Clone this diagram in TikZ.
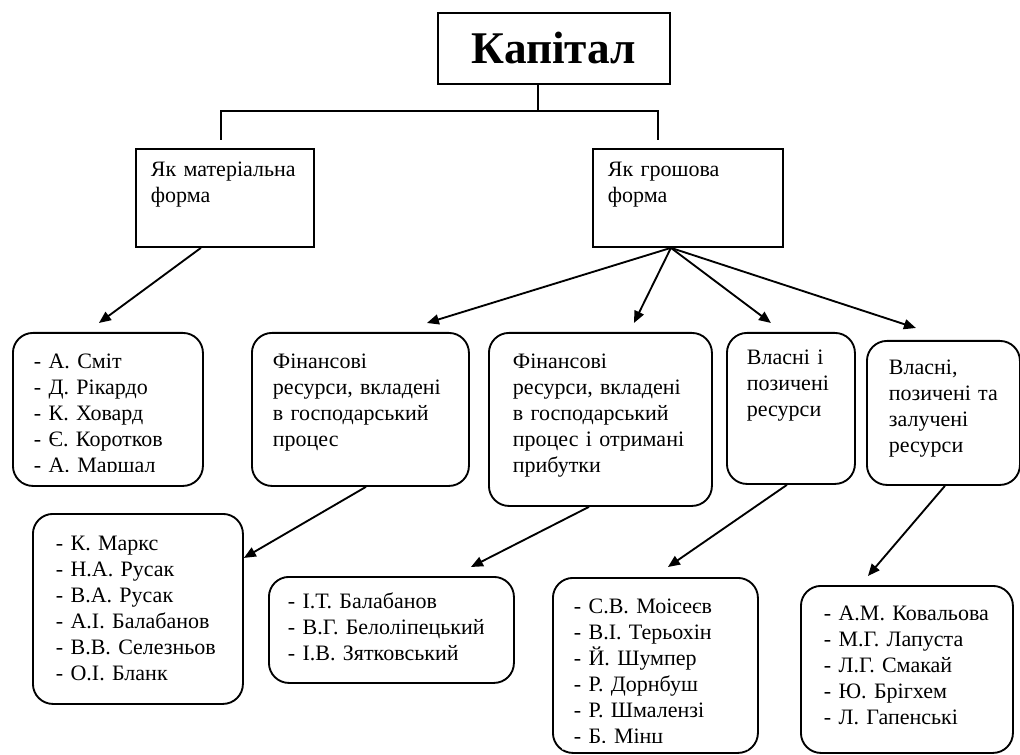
\documentclass[tikz,border=0pt]{standalone}
\usepackage{fontspec}
\setmainfont{Liberation Serif}
\usetikzlibrary{arrows.meta}
\tikzset{>={Triangle[width=7.5pt,length=9pt]}}
\tikzset{
  sqbox/.style={draw, line width=1.4pt, inner ysep=0pt, anchor=north west, align=left},
  rbox/.style={sqbox, rounded corners=15pt},
  arr/.style={->, line width=1.4pt},
  tree/.style={line width=1pt}
}
\newcommand{\txt}{\fontsize{16.5pt}{19.5pt}\selectfont}

\begin{document}
\begin{tikzpicture}[x=0.75pt, y=-0.75pt, font=\txt]
  \useasboundingbox (0,0) rectangle (1020,755);

  %% top
  \node[sqbox, align=center, inner sep=0pt, minimum width=174pt, minimum height=53.25pt,
        font=\fontsize{34pt}{38pt}\selectfont\bfseries] (kap) at (437,12) {Капітал};

  \node[sqbox, inner xsep=11.25pt, text width=111pt, text height=21pt, text depth=52.5pt]
    (mat) at (135,148) {Як~матеріальна\\форма};
  \node[sqbox, inner xsep=11.25pt, text width=120pt, text height=21pt, text depth=52.5pt]
    (gro) at (592,148) {Як~грошова\\форма};

  \coordinate (fork) at (538,111);
  \draw[tree] (kap.south -| fork) -- (fork);
  \draw[tree] ([shift={(-4,-8)}]mat.north) |- (fork) -| ([shift={(-30,-8)}]gro.north);

  %% second row
  \begin{scope}
    \clip (0,0) rectangle (1020,471.5) (0,482) rectangle (1020,755)
          (0,471.5) rectangle (22,482) (192,471.5) rectangle (1020,482);
    \node[rbox, inner xsep=15.75pt, text width=111pt, text height=27pt, text depth=87.75pt]
      (smith) at (12,332)
      {-~А.~Сміт\\-~Д.~Рікардо\\-~К.~Ховард\\-~Є.~Коротков\\-~А.~Маршал};
  \end{scope}
  \node[rbox, inner xsep=15.75pt, text width=131.25pt, text height=27pt, text depth=87.75pt]
    (finB) at (251,332)
    {Фінансові\\ресурси,~вкладені\\в~господарський\\процес};
  \node[rbox, inner xsep=18pt, text width=131.25pt, text height=27pt, text depth=102.75pt]
    (finC) at (488,332)
    {Фінансові\\ресурси,~вкладені\\в~господарський\\процес~і~отримані\\прибутки};
  \node[rbox, inner xsep=15pt, text width=66pt, text height=24pt, text depth=89.25pt]
    (own) at (726,332)
    {Власні~і\\позичені\\ресурси};
  \node[rbox, inner xsep=16.5pt, text width=81.75pt, text height=25.5pt, text depth=82.5pt]
    (owb) at (866,340)
    {Власні,\\позичені~та\\залучені\\ресурси};

  %% third row
  \node[rbox, inner xsep=17.25pt, text width=123pt, text height=27.75pt, text depth=114.75pt]
    (marx) at (32,513)
    {-~К.~Маркс\\-~Н.А.~Русак\\-~В.А.~Русак\\-~А.І.~Балабанов\\-~В.В.~Селезньов\\-~О.І.~Бланк};
  \node[rbox, inner xsep=14.25pt, text width=155.25pt, text height=24pt, text depth=55.5pt]
    (bal) at (268,576)
    {-~І.Т.~Балабанов\\-~В.Г.~Белоліпецький\\-~І.В.~Зятковський};
  \begin{scope}
    \clip (0,0) rectangle (1020,742.5) (0,749.5) rectangle (1020,755)
          (0,742.5) rectangle (562,749.5) (748,742.5) rectangle (1020,749.5);
    \node[rbox, inner xsep=15.75pt, text width=122.25pt, text height=27pt, text depth=104.25pt]
      (moi) at (552,577)
      {-~С.В.~Моісеєв\\-~В.І.~Терьохін\\-~Й.~Шумпер\\-~Р.~Дорнбуш\\-~Р.~Шмалензі\\-~Б.~Мінц};
  \end{scope}
  \node[rbox, inner xsep=17.25pt, text width=124.5pt, text height=26.25pt, text depth=99pt]
    (kov) at (800,585)
    {-~А.М.~Ковальова\\-~М.Г.~Лапуста\\-~Л.Г.~Смакай\\-~Ю.~Брігхем\\-~Л.~Гапенські};

  %% arrows
  \draw[arr] ([shift={(-24,0)}]mat.south) -- ([shift={(-9,-9)}]smith.north);
  \draw[arr] ([shift={(-17,0)}]gro.south) -- ([shift={(66.5,-9)}]finB.north);
  \draw[arr] ([shift={(-17,0)}]gro.south) -- ([shift={(33.5,-9)}]finC.north);
  \draw[arr] ([shift={(-17,0)}]gro.south) -- ([shift={(-20,-9)}]own.north);
  \draw[arr] ([shift={(-17,0)}]gro.south) -- ([shift={(-27.5,-12)}]owb.north);

  \draw[arr] ([shift={(5.5,0)}]finB.south) -- ([shift={(0,-51)}]marx.east);
  \draw[arr] ([shift={(-11.5,0)}]finC.south) -- ([shift={(79.5,-9)}]bal.north);
  \draw[arr] ([shift={(-4,0)}]own.south) -- ([shift={(12.5,-10)}]moi.north);
  \draw[arr] ([shift={(1.5,0)}]owb.south) -- ([shift={(-39,-9)}]kov.north);

\end{tikzpicture}
\end{document}
